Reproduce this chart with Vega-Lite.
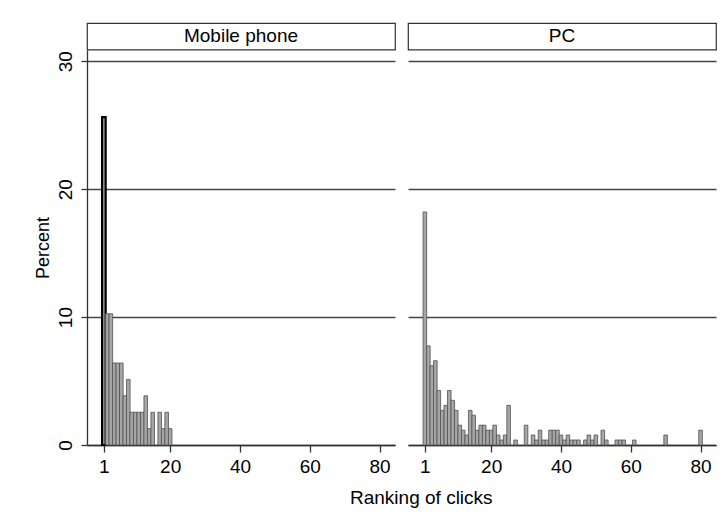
{
  "$schema": "https://vega.github.io/schema/vega-lite/v6.json",
  "background": "white",
  "padding": {"left": 34, "top": 22, "right": 5, "bottom": 5},
  "spacing": 11,
  "datasets": {
    "hist": [
      {"device": "Mobile phone", "rank": 1, "pct": 25.64},
      {"device": "Mobile phone", "rank": 2, "pct": 10.26},
      {"device": "Mobile phone", "rank": 3, "pct": 10.26},
      {"device": "Mobile phone", "rank": 4, "pct": 6.41},
      {"device": "Mobile phone", "rank": 5, "pct": 6.41},
      {"device": "Mobile phone", "rank": 6, "pct": 6.41},
      {"device": "Mobile phone", "rank": 7, "pct": 3.85},
      {"device": "Mobile phone", "rank": 8, "pct": 5.13},
      {"device": "Mobile phone", "rank": 9, "pct": 2.56},
      {"device": "Mobile phone", "rank": 10, "pct": 2.56},
      {"device": "Mobile phone", "rank": 11, "pct": 2.56},
      {"device": "Mobile phone", "rank": 12, "pct": 2.56},
      {"device": "Mobile phone", "rank": 13, "pct": 3.85},
      {"device": "Mobile phone", "rank": 14, "pct": 1.28},
      {"device": "Mobile phone", "rank": 15, "pct": 2.56},
      {"device": "Mobile phone", "rank": 17, "pct": 2.56},
      {"device": "Mobile phone", "rank": 18, "pct": 1.28},
      {"device": "Mobile phone", "rank": 19, "pct": 2.56},
      {"device": "Mobile phone", "rank": 20, "pct": 1.28},
      {"device": "PC", "rank": 1, "pct": 18.22},
      {"device": "PC", "rank": 2, "pct": 7.75},
      {"device": "PC", "rank": 3, "pct": 6.20},
      {"device": "PC", "rank": 4, "pct": 6.59},
      {"device": "PC", "rank": 5, "pct": 4.26},
      {"device": "PC", "rank": 6, "pct": 2.71},
      {"device": "PC", "rank": 7, "pct": 3.10},
      {"device": "PC", "rank": 8, "pct": 4.26},
      {"device": "PC", "rank": 9, "pct": 3.49},
      {"device": "PC", "rank": 10, "pct": 2.71},
      {"device": "PC", "rank": 11, "pct": 1.55},
      {"device": "PC", "rank": 12, "pct": 1.16},
      {"device": "PC", "rank": 13, "pct": 0.78},
      {"device": "PC", "rank": 14, "pct": 2.71},
      {"device": "PC", "rank": 15, "pct": 2.33},
      {"device": "PC", "rank": 16, "pct": 1.16},
      {"device": "PC", "rank": 17, "pct": 1.55},
      {"device": "PC", "rank": 18, "pct": 1.55},
      {"device": "PC", "rank": 19, "pct": 1.16},
      {"device": "PC", "rank": 20, "pct": 1.16},
      {"device": "PC", "rank": 21, "pct": 1.55},
      {"device": "PC", "rank": 22, "pct": 0.78},
      {"device": "PC", "rank": 23, "pct": 0.39},
      {"device": "PC", "rank": 24, "pct": 0.78},
      {"device": "PC", "rank": 25, "pct": 3.10},
      {"device": "PC", "rank": 27, "pct": 0.39},
      {"device": "PC", "rank": 30, "pct": 1.55},
      {"device": "PC", "rank": 32, "pct": 0.78},
      {"device": "PC", "rank": 33, "pct": 0.39},
      {"device": "PC", "rank": 34, "pct": 1.16},
      {"device": "PC", "rank": 35, "pct": 0.39},
      {"device": "PC", "rank": 36, "pct": 0.39},
      {"device": "PC", "rank": 37, "pct": 1.16},
      {"device": "PC", "rank": 38, "pct": 1.16},
      {"device": "PC", "rank": 39, "pct": 1.16},
      {"device": "PC", "rank": 40, "pct": 0.78},
      {"device": "PC", "rank": 41, "pct": 0.39},
      {"device": "PC", "rank": 42, "pct": 0.78},
      {"device": "PC", "rank": 43, "pct": 0.39},
      {"device": "PC", "rank": 44, "pct": 0.39},
      {"device": "PC", "rank": 45, "pct": 0.39},
      {"device": "PC", "rank": 47, "pct": 0.39},
      {"device": "PC", "rank": 48, "pct": 0.78},
      {"device": "PC", "rank": 49, "pct": 0.39},
      {"device": "PC", "rank": 50, "pct": 0.78},
      {"device": "PC", "rank": 52, "pct": 1.16},
      {"device": "PC", "rank": 53, "pct": 0.39},
      {"device": "PC", "rank": 56, "pct": 0.39},
      {"device": "PC", "rank": 57, "pct": 0.39},
      {"device": "PC", "rank": 58, "pct": 0.39},
      {"device": "PC", "rank": 61, "pct": 0.39},
      {"device": "PC", "rank": 70, "pct": 0.78},
      {"device": "PC", "rank": 80, "pct": 1.16}
    ]
  },
  "title": {
    "text": "Ranking of clicks",
    "orient": "bottom",
    "anchor": "middle",
    "fontSize": 19,
    "fontWeight": "normal",
    "font": "Liberation Sans",
    "color": "black",
    "offset": 13,
    "dx": 46
  },
  "hconcat": [
    {
      "spacing": 0,
      "bounds": "flush",
      "vconcat": [
        {
          "width": 308,
          "height": 26.6,
          "view": {"stroke": "#333333", "strokeWidth": 1.2},
          "data": {"values": [{"panel": "Mobile phone"}]},
          "mark": {"type": "text", "fontSize": 19, "font": "Liberation Sans", "color": "black"},
          "encoding": {"text": {"field": "panel", "type": "nominal"}}
        },
        {
          "width": 308,
          "height": 395,
          "view": {"stroke": null},
          "data": {"name": "hist"},
          "transform": [{"filter": "datum.device == 'Mobile phone'"}],
          "mark": {"type": "bar", "width": 3.6, "fill": "#a6a6a6"},
          "encoding": {
            "x": {
              "field": "rank", "type": "quantitative",
              "scale": {"domain": [-2.4, 83], "nice": false, "zero": false},
              "axis": {"values": [1, 20, 40, 60, 80], "title": null, "grid": false, "tickSize": 7, "labelPadding": 5, "labelFlush": false, "labelOverlap": false}
            },
            "y": {
              "field": "pct", "type": "quantitative",
              "scale": {"domain": [0, 30.88], "nice": false},
              "axis": {"values": [0, 10, 20, 30], "title": "Percent", "grid": true, "tickSize": 6, "labelAngle": -90, "labelAlign": "center", "labelBaseline": "bottom", "labelPadding": 6, "titlePadding": 4}
            },
            "stroke": {"condition": {"test": "datum.rank == 1", "value": "#000000"}, "value": "#505050"},
            "strokeWidth": {"condition": {"test": "datum.rank == 1", "value": 2.2}, "value": 0.8}
          }
        }
      ]
    },
    {
      "spacing": 0,
      "bounds": "flush",
      "vconcat": [
        {
          "width": 308,
          "height": 26.6,
          "view": {"stroke": "#333333", "strokeWidth": 1.2},
          "data": {"values": [{"panel": "PC"}]},
          "mark": {"type": "text", "fontSize": 19, "font": "Liberation Sans", "color": "black"},
          "encoding": {"text": {"field": "panel", "type": "nominal"}}
        },
        {
          "width": 308,
          "height": 395,
          "view": {"stroke": null},
          "data": {"name": "hist"},
          "transform": [{"filter": "datum.device == 'PC'"}],
          "mark": {"type": "bar", "width": 3.6, "fill": "#a6a6a6", "stroke": "#505050", "strokeWidth": 0.8},
          "encoding": {
            "x": {
              "field": "rank", "type": "quantitative",
              "scale": {"domain": [-2.4, 83], "nice": false, "zero": false},
              "axis": {"values": [1, 20, 40, 60, 80], "title": null, "grid": false, "tickSize": 7, "labelPadding": 5, "labelFlush": false, "labelOverlap": false}
            },
            "y": {
              "field": "pct", "type": "quantitative",
              "scale": {"domain": [0, 30.88], "nice": false},
              "axis": {"values": [0, 10, 20, 30], "title": null, "grid": true, "labels": false, "ticks": false, "domain": false}
            }
          }
        }
      ]
    }
  ],
  "config": {
    "font": "Liberation Sans",
    "axis": {
      "labelFont": "Liberation Sans",
      "titleFont": "Liberation Sans",
      "labelFontSize": 19,
      "titleFontSize": 18,
      "titleFontWeight": "normal",
      "labelColor": "black",
      "titleColor": "black",
      "domainColor": "#333333",
      "domainWidth": 1.3,
      "tickColor": "#333333",
      "tickWidth": 1.3,
      "gridColor": "#444444",
      "gridWidth": 1.3,
      "gridOpacity": 1
    }
  }
}
